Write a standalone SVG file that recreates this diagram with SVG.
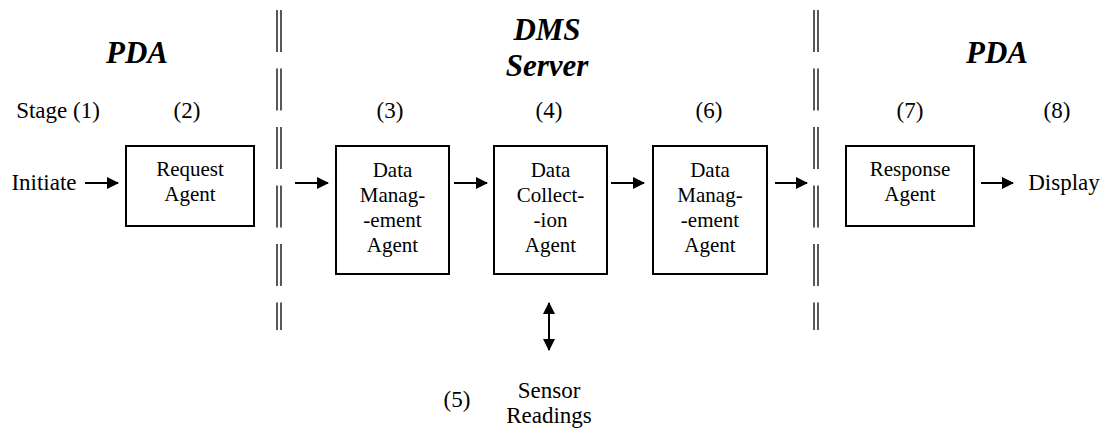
<svg xmlns="http://www.w3.org/2000/svg" width="1106" height="430" viewBox="0 0 1106 430">
<style>
text{font-family:'Liberation Serif','Times New Roman',serif;fill:#000;text-anchor:middle}
.lbl{font-size:23px}
.box{font-size:21px}
.hd{font-size:31px;font-weight:bold;font-style:italic}
rect{fill:#fff;stroke:#000;stroke-width:2}
.div{stroke:#000;stroke-width:1.3;stroke-dasharray:42 16.5;fill:none}
.ar{stroke:#000;stroke-width:2;fill:none}
</style>
<defs>
<marker id="ah" markerWidth="12" markerHeight="12" refX="11" refY="6" orient="auto" markerUnits="userSpaceOnUse">
<path d="M0,0 L12,6 L0,12 Z" fill="#000"/>
</marker>
<marker id="ahs" markerWidth="12" markerHeight="12" refX="11" refY="6" orient="auto-start-reverse" markerUnits="userSpaceOnUse">
<path d="M0,0 L12,6 L0,12 Z" fill="#000"/>
</marker>
</defs>
<g id="dividers">
<path class="div" d="M277,10 V330 M281,10 V330"/>
<path class="div" d="M814,10 V330 M818,10 V330"/>
</g>
<g id="headings">
<text class="hd" x="137" y="63">PDA</text>
<text class="hd" x="547" y="40">DMS</text>
<text class="hd" x="547" y="76">Server</text>
<text class="hd" x="997" y="63">PDA</text>
</g>
<g id="stages">
<text class="lbl" x="58" y="118">Stage (1)</text>
<text class="lbl" x="187" y="118">(2)</text>
<text class="lbl" x="390" y="118">(3)</text>
<text class="lbl" x="549" y="118">(4)</text>
<text class="lbl" x="709" y="118">(6)</text>
<text class="lbl" x="910" y="118">(7)</text>
<text class="lbl" x="1057" y="118">(8)</text>
<text class="lbl" x="457" y="407">(5)</text>
</g>
<g id="initiate"><text class="lbl" x="44" y="190">Initiate</text></g>
<g id="display"><text class="lbl" x="1064" y="190">Display</text></g>
<g id="request-agent">
<rect x="126" y="146" width="128" height="80"/>
<text class="box" x="190" y="176">Request</text>
<text class="box" x="190" y="201">Agent</text>
</g>
<g id="data-management-3">
<rect x="336" y="146" width="113" height="128"/>
<text class="box" x="392.5" y="177">Data</text>
<text class="box" x="392.5" y="202">Manag-</text>
<text class="box" x="392.5" y="227">-ement</text>
<text class="box" x="392.5" y="252">Agent</text>
</g>
<g id="data-collection-4">
<rect x="494" y="146" width="113" height="128"/>
<text class="box" x="550.5" y="177">Data</text>
<text class="box" x="550.5" y="202">Collect-</text>
<text class="box" x="550.5" y="227">-ion</text>
<text class="box" x="550.5" y="252">Agent</text>
</g>
<g id="data-management-6">
<rect x="653" y="146" width="114" height="128"/>
<text class="box" x="710" y="177">Data</text>
<text class="box" x="710" y="202">Manag-</text>
<text class="box" x="710" y="227">-ement</text>
<text class="box" x="710" y="252">Agent</text>
</g>
<g id="response-agent">
<rect x="846" y="146" width="128" height="80"/>
<text class="box" x="910" y="176">Response</text>
<text class="box" x="910" y="201">Agent</text>
</g>
<g id="sensor-readings">
<text class="lbl" x="549" y="398">Sensor</text>
<text class="lbl" x="549" y="423">Readings</text>
</g>
<g id="connectors">
<line class="ar" x1="85" y1="183" x2="118" y2="183" marker-end="url(#ah)"/>
<line class="ar" x1="295" y1="183" x2="328" y2="183" marker-end="url(#ah)"/>
<line class="ar" x1="454" y1="183" x2="487" y2="183" marker-end="url(#ah)"/>
<line class="ar" x1="611" y1="183" x2="644" y2="183" marker-end="url(#ah)"/>
<line class="ar" x1="775" y1="183" x2="807" y2="183" marker-end="url(#ah)"/>
<line class="ar" x1="981" y1="183" x2="1013" y2="183" marker-end="url(#ah)"/>
<line class="ar" x1="549" y1="303" x2="549" y2="350" marker-start="url(#ahs)" marker-end="url(#ahs)"/>
</g>
</svg>
